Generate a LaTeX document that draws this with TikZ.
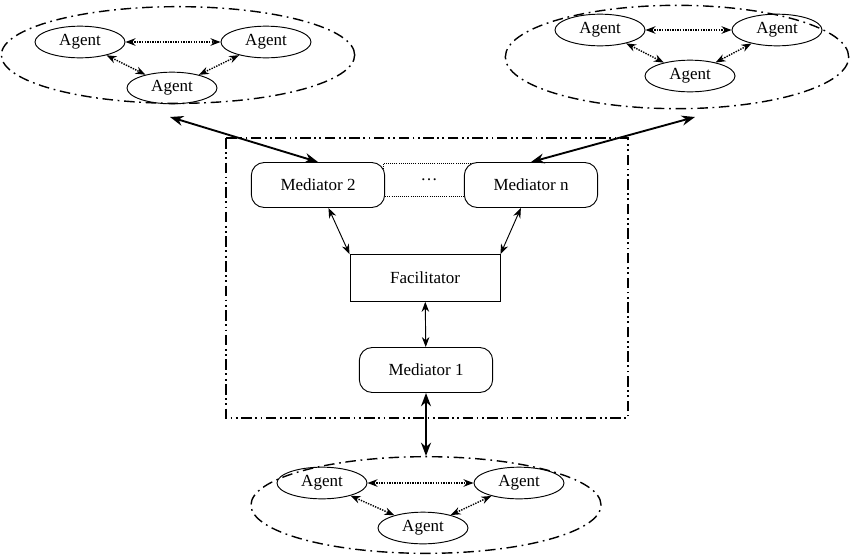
\documentclass[tikz,border=0pt]{standalone}
\usepackage{fontspec}
\setmainfont{Liberation Serif}
\usetikzlibrary{arrows.meta,positioning,shapes.geometric}

\begin{document}
\begin{tikzpicture}[x=0.03cm, y=-0.03cm, font=\fontsize{14.5}{16}\selectfont]
\tikzset{agent/.style={draw, thick, ellipse, minimum width=27mm, minimum height=9.5mm, inner sep=0pt},
  group/.style={draw, very thick, ellipse, dash pattern=on 9pt off 4pt on 1.5pt off 4pt},
  mediator/.style={draw, thick, rounded corners=11pt, minimum width=40mm, minimum height=13.5mm},
  link/.style={densely dotted, very thick, {Stealth[length=3mm]}-{Stealth[length=3mm]}},
  thin link/.style={thick, {Stealth[length=3mm]}-{Stealth[length=3mm]}},
  main link/.style={line width=1.6pt, {Stealth[length=4mm]}-{Stealth[length=4mm]}}}
\useasboundingbox (0,0) rectangle (850,558);
% agent groups
\node[group, minimum width=106mm, minimum height=29mm] (g1) at (178,55) {};
\node[group, minimum width=103mm, minimum height=31mm] (g2) at (677,57) {};
\node[group, minimum width=105mm, minimum height=29mm] (g3) at (426,505) {};
\node[agent] (a1) at (80,42) {Agent};
\node[agent] (a2) at (266,42) {Agent};
\node[agent] (a3) at (172,88) {Agent};
\node[agent] (b1) at (600,30) {Agent};
\node[agent] (b2) at (777,30) {Agent};
\node[agent] (b3) at (690,76) {Agent};
\node[agent] (c1) at (322,483) {Agent};
\node[agent] (c2) at (519,483) {Agent};
\node[agent] (c3) at (423,528) {Agent};
\draw[link] (a1) -- (a2);
\draw[link] (a1) -- (a3);
\draw[link] (a2) -- (a3);
\draw[link] (b1) -- (b2);
\draw[link] (b1) -- (b3);
\draw[link] (b2) -- (b3);
\draw[link] (c1) -- (c2);
\draw[link] (c1) -- (c3);
\draw[link] (c2) -- (c3);
% mediation layer
\draw[very thick, dash pattern=on 9pt off 3pt on 1.5pt off 3pt on 1.5pt off 3pt] (226,138) rectangle (628,418);
\node[draw, densely dotted, thick, minimum width=27.5mm, minimum height=10mm] (dots) at (429,180) {\dots};
\node[mediator, fill=white] (m2) at (318,185) {Mediator 2};
\node[mediator, fill=white] (mn) at (531,185) {Mediator n};
\node[draw, thick, minimum width=45mm, minimum height=14mm] (fac) at (425,278) {Facilitator};
\node[mediator] (m1) at (426,370) {Mediator 1};
\coordinate (g1s) at (170,117);
\coordinate (g2s) at (695,117);
\draw[main link] (g1s) -- (m2.north);
\draw[main link] (g2s) -- (mn.north);
\draw[main link] (m1) -- (g3);
\draw[thin link] (m2) -- (fac.north west);
\draw[thin link] (mn) -- (fac.north east);
\draw[thin link] (fac) -- (m1);
\end{tikzpicture}
\end{document}
